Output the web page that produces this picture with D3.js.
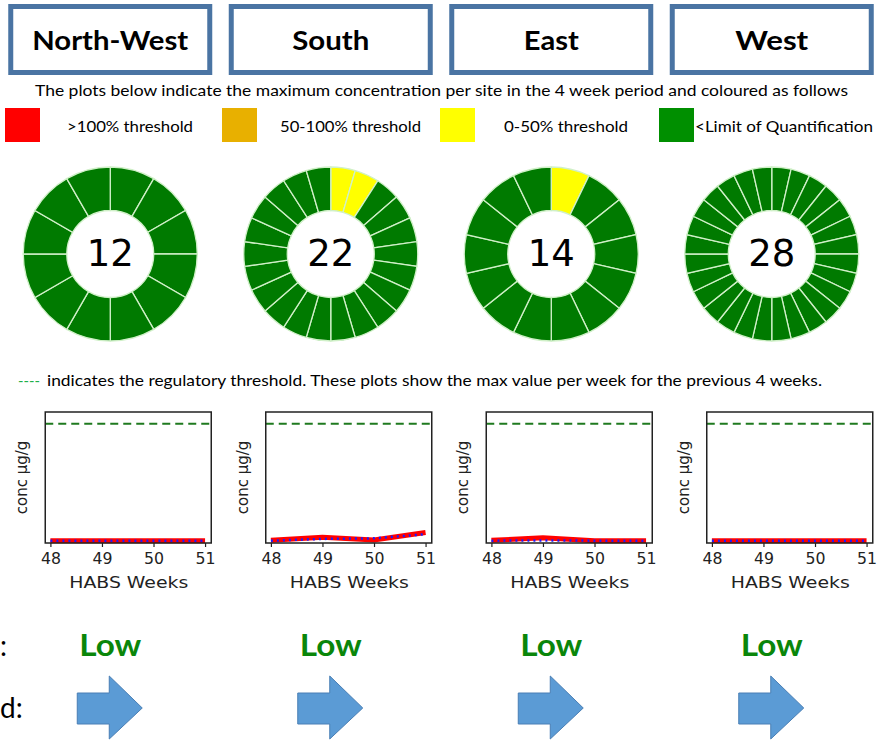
<!DOCTYPE html>
<html>
<head>
<meta charset="utf-8">
<script src="https://cdn.jsdelivr.net/npm/d3@7"></script>
<style>
    body { margin: 0; background: #fff; }
    svg { display: block; }
    .calibri { font-family: Lato, "Open Sans", sans-serif; }
    .mpl { font-family: "DejaVu Sans", sans-serif; }
</style>
</head>
<body>
<div id="chart"></div>
<script>
"use strict";

// ---- data ----
const regions = ["North-West", "South", "East", "West"];
// number of sites per region and their max-concentration category (in order, clockwise from 12 o'clock)
const siteCounts = [12, 22, 14, 28];
const sitesOver100 = [0, 0, 0, 0];
const sites50to100 = [0, 0, 0, 0];
const sites0to50 = [0, 2, 1, 0];

const legendLabels = [">100% threshold", "50-100% threshold", "0-50% threshold", "<Limit of Quantification"];
const legendColors = ["#ff0000", "#e8b000", "#ffff00", "#008f00"];

const weeks = [48, 49, 50, 51];
const threshold = 20;
// max value per week (red) and second series (blue dotted)
const maxNW = [0, 0, 0, 0];
const maxSouth = [0.05, 0.6, 0.1, 1.4];
const maxEast = [0.05, 0.5, 0, 0];
const maxWest = [0, 0, 0, 0];
const meanNW = [0, 0, 0, 0];
const meanSouth = [0, 0.3, 0.4, 1.1];
const meanEast = [0, 0.05, 0, 0];
const meanWest = [0, 0, 0, 0];

const riskLabels = ["Low", "Low", "Low", "Low"];
const trends = ["flat", "flat", "flat", "flat"];

// ---- layout ----
const width = 878, height = 744;
const svg = d3.select("#chart").append("svg")
    .attr("width", width)
    .attr("height", height);

const col = d3.scaleBand().domain(regions).range([0, 882]);
const cx = r => col(r) + col.bandwidth() / 2;

// header boxes
const headerW = [156, 77, 55, 73];
const header = svg.append("g");
regions.forEach((r, i) => {
    header.append("rect")
        .attr("x", cx(r) - 99.5).attr("y", 6.5)
        .attr("width", 199).attr("height", 66)
        .attr("fill", "#fff")
        .attr("stroke", "#4a74a3")
        .attr("stroke-width", 5);
    header.append("text")
        .attr("class", "calibri")
        .attr("x", cx(r) - headerW[i] / 2).attr("y", 50)
        .attr("font-size", 27)
        .attr("font-weight", "bold")
        .attr("textLength", headerW[i])
        .attr("lengthAdjust", "spacingAndGlyphs")
        .text(r);
});

svg.append("text")
    .attr("class", "calibri")
    .attr("x", 35).attr("y", 96)
    .attr("font-size", 15)
    .attr("textLength", 813)
    .attr("lengthAdjust", "spacingAndGlyphs")
    .text("The plots below indicate the maximum concentration per site in the 4 week period and coloured as follows");

// legend
const legendX = [5, 222, 440, 659];
const legendTextX = [67, 280, 504, 695];
const legendTextW = [126, 141, 124, 178];
legendLabels.forEach((l, i) => {
    svg.append("rect")
        .attr("x", legendX[i]).attr("y", 108)
        .attr("width", 35).attr("height", 34)
        .attr("fill", legendColors[i]);
    svg.append("text")
        .attr("class", "calibri")
        .attr("x", legendTextX[i]).attr("y", 132)
        .attr("font-size", 15)
        .attr("textLength", legendTextW[i])
        .attr("lengthAdjust", "spacingAndGlyphs")
        .text(l);
});

// ---- donuts ----
const pie = d3.pie().value(1).sort(null);
const arc = d3.arc().innerRadius(43.5).outerRadius(87);
const donutColors = ["#ff0000", "#e8b000", "#ffff00", "#007a00"];

regions.forEach((r, i) => {
    const cats = [];
    for (let k = 0; k < sitesOver100[i]; ++k) cats.push(0);
    for (let k = 0; k < sites50to100[i]; ++k) cats.push(1);
    for (let k = 0; k < sites0to50[i]; ++k) cats.push(2);
    while (cats.length < siteCounts[i]) cats.push(3);

    const g = svg.append("g")
        .attr("transform", `translate(${cx(r)},254)`);
    g.selectAll("path")
        .data(pie(cats))
        .join("path")
        .attr("d", arc)
        .attr("fill", d => donutColors[d.data])
        .attr("stroke", "#d0f0c8")
        .attr("stroke-width", 1.3);
    g.append("text")
        .attr("class", "mpl")
        .attr("text-anchor", "middle")
        .attr("y", 12)
        .attr("font-size", 37)
        .text(siteCounts[i]);
});

// note line
svg.append("text")
    .attr("class", "calibri")
    .attr("x", 18).attr("y", 386)
    .attr("font-size", 15)
    .attr("fill", "#1fb04a")
    .attr("textLength", 22)
    .attr("lengthAdjust", "spacingAndGlyphs")
    .text("----");
svg.append("text")
    .attr("class", "calibri")
    .attr("x", 47).attr("y", 386)
    .attr("font-size", 15)
    .attr("textLength", 775)
    .attr("lengthAdjust", "spacingAndGlyphs")
    .text("indicates the regulatory threshold. These plots show the max value per week for the previous 4 weeks.");

// ---- line plots ----
const maxSeries = [maxNW, maxSouth, maxEast, maxWest];
const meanSeries = [meanNW, meanSouth, meanEast, meanWest];
const plotTop = 412, plotBottom = 543;

regions.forEach((r, i) => {
    const left = cx(r) - 65, right = cx(r) + 101;
    const x = d3.scaleLinear().domain([47.9, 51.12]).range([left, right]);
    const y = d3.scaleLinear().domain([-0.4, 22]).range([plotBottom, plotTop]);
    const g = svg.append("g");

    const line = d3.line()
        .x((d, k) => x(weeks[k]))
        .y(d => y(d));

    g.append("line")
        .attr("x1", left).attr("x2", right)
        .attr("y1", y(threshold)).attr("y2", y(threshold))
        .attr("stroke", "#1f7a1f")
        .attr("stroke-width", 2)
        .attr("stroke-dasharray", "8,5");

    g.append("path")
        .datum(maxSeries[i])
        .attr("d", line)
        .attr("fill", "none")
        .attr("stroke", "#ff0000")
        .attr("stroke-width", 5);
    g.append("path")
        .datum(meanSeries[i])
        .attr("d", line)
        .attr("fill", "none")
        .attr("stroke", "#1a1aff")
        .attr("stroke-width", 2.5)
        .attr("stroke-dasharray", "2,4");

    g.append("rect")
        .attr("x", left).attr("y", plotTop)
        .attr("width", right - left).attr("height", plotBottom - plotTop)
        .attr("fill", "none")
        .attr("stroke", "#222")
        .attr("stroke-width", 1.5);

    const xAxis = d3.axisBottom(x)
        .tickValues(weeks)
        .tickFormat(d3.format("d"))
        .tickSize(4)
        .tickPadding(6);
    g.append("g")
        .attr("class", "mpl")
        .attr("transform", `translate(0,${plotBottom})`)
        .call(xAxis)
        .call(a => a.select(".domain").remove())
        .call(a => a.selectAll("line").attr("stroke", "#222").attr("stroke-width", 1.2))
        .call(a => a.selectAll("text")
            .attr("font-size", 16)
            .attr("fill", "#222")
            .attr("textLength", 20)
            .attr("lengthAdjust", "spacingAndGlyphs"));

    g.append("text")
        .attr("class", "mpl")
        .attr("x", (left + right) / 2 - 59).attr("y", 588)
        .attr("font-size", 16)
        .attr("fill", "#222")
        .attr("textLength", 119)
        .attr("lengthAdjust", "spacingAndGlyphs")
        .text("HABS Weeks");

    g.append("text")
        .attr("class", "mpl")
        .attr("text-anchor", "middle")
        .attr("transform", `translate(${left - 18},${(plotTop + plotBottom) / 2}) rotate(-90)`)
        .attr("font-size", 15)
        .attr("fill", "#222")
        .text("conc \u00b5g/g");
});

// ---- risk and trend (row labels are cut at the left edge in the source) ----
svg.append("text")
    .attr("class", "calibri")
    .attr("x", 0).attr("y", 656)
    .attr("font-size", 28)
    .text(":");
svg.append("text")
    .attr("class", "calibri")
    .attr("x", 0).attr("y", 718)
    .attr("font-size", 28)
    .text("d:");

regions.forEach((r, i) => {
    svg.append("text")
        .attr("class", "calibri")
        .attr("x", cx(r) - 31).attr("y", 656)
        .attr("font-size", 31)
        .attr("font-weight", "bold")
        .attr("fill", "#0a860a")
        .attr("textLength", 62)
        .attr("lengthAdjust", "spacingAndGlyphs")
        .text(riskLabels[i]);

    if (trends[i] === "flat") {
        const x0 = cx(r) - 33;
        const arrow = [[0, 17], [32, 17], [32, 0], [65, 32], [32, 63], [32, 48], [0, 48]];
        svg.append("path")
            .attr("transform", `translate(${x0},676)`)
            .attr("d", d3.line()(arrow) + "Z")
            .attr("fill", "#5b9bd5")
            .attr("stroke", "#4a7fb5")
            .attr("stroke-width", 1);
    }
});
</script>
</body>
</html>
